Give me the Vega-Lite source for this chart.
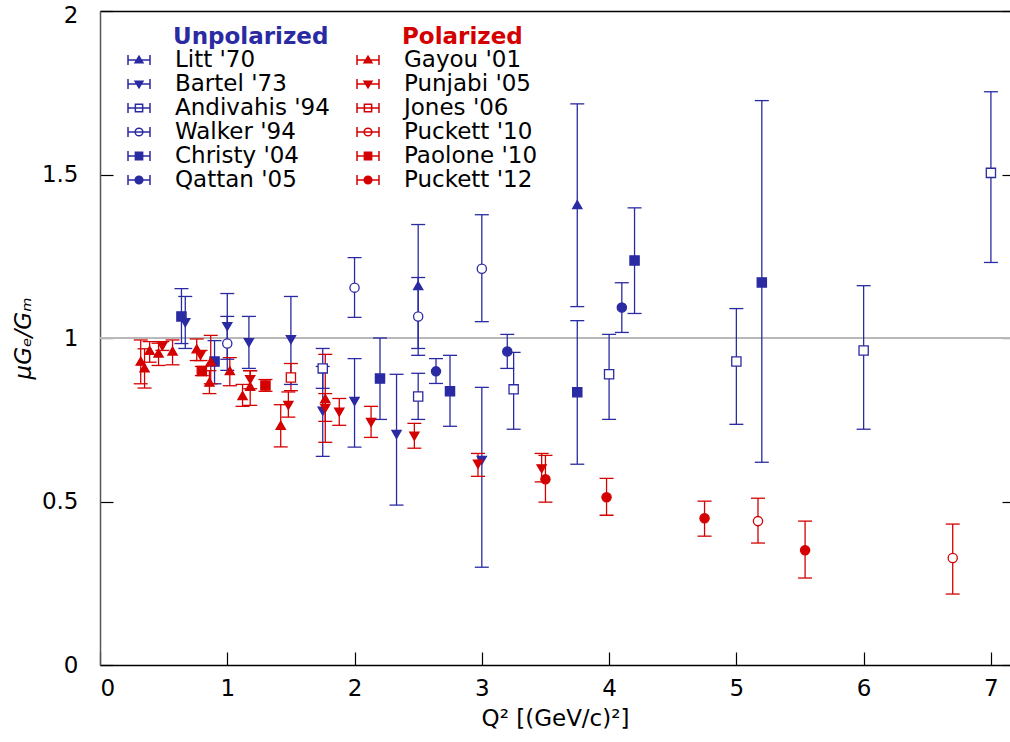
{
  "$schema": "https://vega.github.io/schema/vega-lite/v6.json",
  "width": 910,
  "height": 654,
  "autosize": "none",
  "padding": {"left": 100, "top": 11, "right": 0, "bottom": 77},
  "background": "white",
  "config": {
    "view": {"stroke": null},
    "font": "DejaVu Sans",
    "axis": {
      "domainColor": "black", "domainWidth": 1.5, "tickColor": "black", "tickWidth": 1.2,
      "tickSize": -13, "labelFontSize": 23, "labelColor": "black", "titleFontSize": 23,
      "titleColor": "black", "titleFontWeight": "normal", "grid": false,
      "labelFont": "DejaVu Sans", "titleFont": "DejaVu Sans"
    },
    "legend": {"labelFont": "DejaVu Sans", "titleFont": "DejaVu Sans"}
  },
  "data": {
    "values": [
      {"exp": "Litt '70", "group": "Unpolarized", "q2": 2.5, "ratio": 1.16, "lo": 0.947, "hi": 1.347},
      {"exp": "Litt '70", "group": "Unpolarized", "q2": 3.75, "ratio": 1.408, "lo": 1.096, "hi": 1.716},
      {"exp": "Bartel '73", "group": "Unpolarized", "q2": 0.67, "ratio": 1.047, "lo": 0.968, "hi": 1.127},
      {"exp": "Bartel '73", "group": "Unpolarized", "q2": 1.0, "ratio": 1.035, "lo": 0.935, "hi": 1.136},
      {"exp": "Bartel '73", "group": "Unpolarized", "q2": 1.17, "ratio": 0.986, "lo": 0.907, "hi": 1.066},
      {"exp": "Bartel '73", "group": "Unpolarized", "q2": 1.5, "ratio": 0.995, "lo": 0.858, "hi": 1.127},
      {"exp": "Bartel '73", "group": "Unpolarized", "q2": 1.75, "ratio": 0.776, "lo": 0.638, "hi": 0.913},
      {"exp": "Bartel '73", "group": "Unpolarized", "q2": 2.0, "ratio": 0.806, "lo": 0.666, "hi": 0.937},
      {"exp": "Bartel '73", "group": "Unpolarized", "q2": 2.33, "ratio": 0.705, "lo": 0.489, "hi": 0.889},
      {"exp": "Bartel '73", "group": "Unpolarized", "q2": 3.0, "ratio": 0.626, "lo": 0.299, "hi": 0.849},
      {"exp": "Andivahis '94", "group": "Unpolarized", "q2": 1.75, "ratio": 0.907, "lo": 0.846, "hi": 0.968},
      {"exp": "Andivahis '94", "group": "Unpolarized", "q2": 2.5, "ratio": 0.821, "lo": 0.751, "hi": 0.892},
      {"exp": "Andivahis '94", "group": "Unpolarized", "q2": 3.25, "ratio": 0.843, "lo": 0.721, "hi": 0.956},
      {"exp": "Andivahis '94", "group": "Unpolarized", "q2": 4.0, "ratio": 0.889, "lo": 0.751, "hi": 1.011},
      {"exp": "Andivahis '94", "group": "Unpolarized", "q2": 5.0, "ratio": 0.928, "lo": 0.736, "hi": 1.09},
      {"exp": "Andivahis '94", "group": "Unpolarized", "q2": 6.0, "ratio": 0.962, "lo": 0.721, "hi": 1.16},
      {"exp": "Andivahis '94", "group": "Unpolarized", "q2": 7.0, "ratio": 1.505, "lo": 1.231, "hi": 1.753},
      {"exp": "Walker '94", "group": "Unpolarized", "q2": 1.0, "ratio": 0.983, "lo": 0.901, "hi": 1.066},
      {"exp": "Walker '94", "group": "Unpolarized", "q2": 2.0, "ratio": 1.154, "lo": 1.063, "hi": 1.246},
      {"exp": "Walker '94", "group": "Unpolarized", "q2": 2.5, "ratio": 1.066, "lo": 0.968, "hi": 1.185},
      {"exp": "Walker '94", "group": "Unpolarized", "q2": 3.0, "ratio": 1.212, "lo": 1.05, "hi": 1.377},
      {"exp": "Christy '04", "group": "Unpolarized", "q2": 0.64, "ratio": 1.066, "lo": 0.983, "hi": 1.151},
      {"exp": "Christy '04", "group": "Unpolarized", "q2": 0.9, "ratio": 0.928, "lo": 0.86, "hi": 0.992},
      {"exp": "Christy '04", "group": "Unpolarized", "q2": 2.2, "ratio": 0.876, "lo": 0.751, "hi": 1.0},
      {"exp": "Christy '04", "group": "Unpolarized", "q2": 2.75, "ratio": 0.837, "lo": 0.73, "hi": 0.947},
      {"exp": "Christy '04", "group": "Unpolarized", "q2": 3.75, "ratio": 0.834, "lo": 0.614, "hi": 1.053},
      {"exp": "Christy '04", "group": "Unpolarized", "q2": 4.2, "ratio": 1.237, "lo": 1.075, "hi": 1.398},
      {"exp": "Christy '04", "group": "Unpolarized", "q2": 5.2, "ratio": 1.17, "lo": 0.62, "hi": 1.726},
      {"exp": "Qattan '05", "group": "Unpolarized", "q2": 2.64, "ratio": 0.898, "lo": 0.861, "hi": 0.937},
      {"exp": "Qattan '05", "group": "Unpolarized", "q2": 3.2, "ratio": 0.959, "lo": 0.907, "hi": 1.011},
      {"exp": "Qattan '05", "group": "Unpolarized", "q2": 4.1, "ratio": 1.093, "lo": 1.017, "hi": 1.169},
      {"exp": "Gayou '01", "group": "Polarized", "q2": 0.32, "ratio": 0.929, "lo": 0.86, "hi": 0.994},
      {"exp": "Gayou '01", "group": "Polarized", "q2": 0.35, "ratio": 0.909, "lo": 0.847, "hi": 0.967},
      {"exp": "Gayou '01", "group": "Polarized", "q2": 0.39, "ratio": 0.962, "lo": 0.926, "hi": 0.989},
      {"exp": "Gayou '01", "group": "Polarized", "q2": 0.46, "ratio": 0.954, "lo": 0.916, "hi": 0.984},
      {"exp": "Gayou '01", "group": "Polarized", "q2": 0.57, "ratio": 0.96, "lo": 0.918, "hi": 0.994},
      {"exp": "Gayou '01", "group": "Polarized", "q2": 0.76, "ratio": 0.967, "lo": 0.931, "hi": 0.997},
      {"exp": "Gayou '01", "group": "Polarized", "q2": 0.87, "ratio": 0.928, "lo": 0.86, "hi": 1.008},
      {"exp": "Gayou '01", "group": "Polarized", "q2": 0.86, "ratio": 0.865, "lo": 0.83, "hi": 0.9},
      {"exp": "Gayou '01", "group": "Polarized", "q2": 1.02, "ratio": 0.9, "lo": 0.854, "hi": 0.94},
      {"exp": "Gayou '01", "group": "Polarized", "q2": 1.12, "ratio": 0.824, "lo": 0.791, "hi": 0.858},
      {"exp": "Gayou '01", "group": "Polarized", "q2": 1.18, "ratio": 0.852, "lo": 0.794, "hi": 0.9},
      {"exp": "Gayou '01", "group": "Polarized", "q2": 1.42, "ratio": 0.733, "lo": 0.667, "hi": 0.796},
      {"exp": "Gayou '01", "group": "Polarized", "q2": 1.77, "ratio": 0.815, "lo": 0.681, "hi": 0.95},
      {"exp": "Punjabi '05", "group": "Polarized", "q2": 0.49, "ratio": 0.975, "lo": 0.962, "hi": 0.989},
      {"exp": "Punjabi '05", "group": "Polarized", "q2": 0.79, "ratio": 0.947, "lo": 0.931, "hi": 0.962},
      {"exp": "Punjabi '05", "group": "Polarized", "q2": 1.18, "ratio": 0.873, "lo": 0.845, "hi": 0.9},
      {"exp": "Punjabi '05", "group": "Polarized", "q2": 1.48, "ratio": 0.794, "lo": 0.758, "hi": 0.835},
      {"exp": "Punjabi '05", "group": "Polarized", "q2": 1.77, "ratio": 0.785, "lo": 0.745, "hi": 0.83},
      {"exp": "Punjabi '05", "group": "Polarized", "q2": 1.88, "ratio": 0.773, "lo": 0.733, "hi": 0.815},
      {"exp": "Punjabi '05", "group": "Polarized", "q2": 2.13, "ratio": 0.742, "lo": 0.696, "hi": 0.791},
      {"exp": "Punjabi '05", "group": "Polarized", "q2": 2.47, "ratio": 0.7, "lo": 0.663, "hi": 0.739},
      {"exp": "Punjabi '05", "group": "Polarized", "q2": 2.97, "ratio": 0.614, "lo": 0.577, "hi": 0.647},
      {"exp": "Punjabi '05", "group": "Polarized", "q2": 3.47, "ratio": 0.6, "lo": 0.56, "hi": 0.647},
      {"exp": "Jones '06", "group": "Polarized", "q2": 1.5, "ratio": 0.879, "lo": 0.839, "hi": 0.922},
      {"exp": "Puckett '10", "group": "Polarized", "q2": 5.17, "ratio": 0.44, "lo": 0.373, "hi": 0.51},
      {"exp": "Puckett '10", "group": "Polarized", "q2": 6.7, "ratio": 0.327, "lo": 0.217, "hi": 0.431},
      {"exp": "Paolone '10", "group": "Polarized", "q2": 0.8, "ratio": 0.899, "lo": 0.885, "hi": 0.913},
      {"exp": "Paolone '10", "group": "Polarized", "q2": 1.3, "ratio": 0.855, "lo": 0.837, "hi": 0.873},
      {"exp": "Puckett '12", "group": "Polarized", "q2": 3.5, "ratio": 0.568, "lo": 0.498, "hi": 0.641},
      {"exp": "Puckett '12", "group": "Polarized", "q2": 3.98, "ratio": 0.513, "lo": 0.458, "hi": 0.571},
      {"exp": "Puckett '12", "group": "Polarized", "q2": 4.75, "ratio": 0.449, "lo": 0.394, "hi": 0.501},
      {"exp": "Puckett '12", "group": "Polarized", "q2": 5.54, "ratio": 0.351, "lo": 0.266, "hi": 0.44}
    ]
  },
  "layer": [
    {
      "mark": {"type": "rule", "color": "#b8b8b8", "strokeWidth": 1.3},
      "encoding": {
        "y": {"datum": 1, "type": "quantitative", "scale": {"domain": [0, 2], "nice": false},
          "axis": {"orient": "left", "values": [0, 0.5, 1, 1.5, 2], "format": "~g", "title": "μGₑ/Gₘ",
            "titleFontStyle": "italic", "labelPadding": 35, "titlePadding": 6, "domainColor": "#555555",
            "labelOffset": {"condition": {"test": "datum.value == 2", "value": 4}, "value": 0}}}
      }
    },
    {
      "mark": {"type": "rule", "strokeWidth": 1.3},
      "encoding": {
        "x": {"field": "q2", "type": "quantitative", "scale": {"domain": [0, 7.15], "nice": false},
          "axis": {"orient": "bottom", "values": [0, 1, 2, 3, 4, 5, 6, 7], "format": "d", "title": "Q² [(GeV/c)²]",
            "labelPadding": 25, "titlePadding": 7}},
        "y": {"field": "lo", "type": "quantitative", "scale": {"domain": [0, 2], "nice": false}, "axis": null},
        "y2": {"field": "hi"},
        "color": {"field": "group", "type": "nominal", "scale": {"domain": ["Unpolarized", "Polarized"], "range": ["#2a2aa3", "#d40000"]}, "legend": null}
      }
    },
    {
      "mark": {"type": "tick", "orient": "horizontal", "size": 14, "thickness": 1.3, "opacity": 1},
      "encoding": {
        "x": {"field": "q2", "type": "quantitative", "scale": {"domain": [0, 7.15], "nice": false}, "axis": null},
        "y": {"field": "lo", "type": "quantitative", "scale": {"domain": [0, 2], "nice": false}, "axis": null},
        "color": {"field": "group", "type": "nominal", "scale": {"domain": ["Unpolarized", "Polarized"], "range": ["#2a2aa3", "#d40000"]}, "legend": null}
      }
    },
    {
      "mark": {"type": "tick", "orient": "horizontal", "size": 14, "thickness": 1.3, "opacity": 1},
      "encoding": {
        "x": {"field": "q2", "type": "quantitative", "scale": {"domain": [0, 7.15], "nice": false}, "axis": null},
        "y": {"field": "hi", "type": "quantitative", "scale": {"domain": [0, 2], "nice": false}, "axis": null},
        "color": {"field": "group", "type": "nominal", "scale": {"domain": ["Unpolarized", "Polarized"], "range": ["#2a2aa3", "#d40000"]}, "legend": null}
      }
    },
    {
      "transform": [{"filter": "datum.group == 'Unpolarized'"}],
      "mark": {"type": "point", "filled": false, "opacity": 1, "strokeWidth": 1.3, "size": 85, "stroke": "#2a2aa3"},
      "encoding": {
        "x": {"field": "q2", "type": "quantitative", "scale": {"domain": [0, 7.15], "nice": false}, "axis": null},
        "y": {"field": "ratio", "type": "quantitative", "scale": {"domain": [0, 2], "nice": false}, "axis": null},
        "shape": {"field": "exp", "type": "nominal",
          "scale": {"domain": ["Litt '70", "Bartel '73", "Andivahis '94", "Walker '94", "Christy '04", "Qattan '05"],
            "range": ["triangle-up", "triangle-down", "square", "circle", "square", "circle"]},
          "legend": null},
        "fill": {"field": "exp", "type": "nominal",
          "scale": {"domain": ["Litt '70", "Bartel '73", "Andivahis '94", "Walker '94", "Christy '04", "Qattan '05"],
            "range": ["#2a2aa3", "#2a2aa3", "white", "white", "#2a2aa3", "#2a2aa3"]}, "legend": null}
      }
    },
    {
      "transform": [{"filter": "datum.group == 'Polarized'"}],
      "mark": {"type": "point", "filled": false, "opacity": 1, "strokeWidth": 1.3, "size": 85, "stroke": "#d40000"},
      "encoding": {
        "x": {"field": "q2", "type": "quantitative", "scale": {"domain": [0, 7.15], "nice": false}, "axis": null},
        "y": {"field": "ratio", "type": "quantitative", "scale": {"domain": [0, 2], "nice": false}, "axis": null},
        "shape": {"field": "exp", "type": "nominal",
          "scale": {"domain": ["Gayou '01", "Punjabi '05", "Jones '06", "Puckett '10", "Paolone '10", "Puckett '12"],
            "range": ["triangle-up", "triangle-down", "square", "circle", "square", "circle"]},
          "legend": null},
        "fill": {"field": "exp", "type": "nominal",
          "scale": {"domain": ["Gayou '01", "Punjabi '05", "Jones '06", "Puckett '10", "Paolone '10", "Puckett '12"],
            "range": ["#d40000", "#d40000", "white", "white", "#d40000", "#d40000"]}, "legend": null}
      }
    },
    {
      "transform": [{"filter": "false"}],
      "mark": {"type": "point", "filled": false, "opacity": 1, "strokeWidth": 1.4, "size": 484, "stroke": "#2a2aa3"},
      "encoding": {
        "x": {"field": "q2", "type": "quantitative", "scale": {"domain": [0, 7.15], "nice": false}, "axis": null},
        "y": {"field": "ratio", "type": "quantitative", "scale": {"domain": [0, 2], "nice": false}, "axis": null},
        "shape": {"field": "exp", "type": "nominal",
          "scale": {"domain": ["Litt '70", "Bartel '73", "Andivahis '94", "Walker '94", "Christy '04", "Qattan '05"],
            "range": ["M-1,0H1M-1,-0.45V0.45M1,-0.45V0.45M0,-0.34L0.36,0.26L-0.36,0.26Z", "M-1,0H1M-1,-0.45V0.45M1,-0.45V0.45M0,0.34L0.36,-0.26L-0.36,-0.26Z", "M-1,0H1M-1,-0.45V0.45M1,-0.45V0.45M-0.33,-0.33H0.33V0.33H-0.33Z", "M-1,0H1M-1,-0.45V0.45M1,-0.45V0.45M0.35,0A0.35,0.35,0,1,1,-0.35,0A0.35,0.35,0,1,1,0.35,0Z", "M-1,0H1M-1,-0.45V0.45M1,-0.45V0.45M-0.33,-0.33H0.33V0.33H-0.33Z", "M-1,0H1M-1,-0.45V0.45M1,-0.45V0.45M0.35,0A0.35,0.35,0,1,1,-0.35,0A0.35,0.35,0,1,1,0.35,0Z"]},
          "legend": {
            "orient": "none", "legendX": 73, "legendY": 15, "title": "Unpolarized",
            "titleColor": "#2a2aa3", "titleFontWeight": "bold", "titleFontSize": 23, "titlePadding": -1,
            "labelFontSize": 23, "labelColor": "black", "labelLimit": 300, "labelOffset": 24,
            "symbolSize": 484, "symbolOffset": -46, "rowPadding": -4.4, "padding": 0,
            "encode": {
              "symbols": {"update": {
                "size": {"value": 484},
                "fill": {"signal": "datum.index == 2 || datum.index == 3 ? 'transparent' : '#2a2aa3'"},
                "stroke": {"value": "#2a2aa3"},
                "strokeWidth": {"value": 1.4},
                "opacity": {"value": 1}
              }}
            }
          }},
        "fill": {"field": "exp", "type": "nominal",
          "scale": {"domain": ["Litt '70", "Bartel '73", "Andivahis '94", "Walker '94", "Christy '04", "Qattan '05"],
            "range": ["#2a2aa3", "#2a2aa3", "transparent", "transparent", "#2a2aa3", "#2a2aa3"]}, "legend": null}
      }
    },
    {
      "transform": [{"filter": "false"}],
      "mark": {"type": "point", "filled": false, "opacity": 1, "strokeWidth": 1.4, "size": 484, "stroke": "#d40000"},
      "encoding": {
        "x": {"field": "q2", "type": "quantitative", "scale": {"domain": [0, 7.15], "nice": false}, "axis": null},
        "y": {"field": "ratio", "type": "quantitative", "scale": {"domain": [0, 2], "nice": false}, "axis": null},
        "shape": {"field": "exp", "type": "nominal",
          "scale": {"domain": ["Gayou '01", "Punjabi '05", "Jones '06", "Puckett '10", "Paolone '10", "Puckett '12"],
            "range": ["M-1,0H1M-1,-0.45V0.45M1,-0.45V0.45M0,-0.34L0.36,0.26L-0.36,0.26Z", "M-1,0H1M-1,-0.45V0.45M1,-0.45V0.45M0,0.34L0.36,-0.26L-0.36,-0.26Z", "M-1,0H1M-1,-0.45V0.45M1,-0.45V0.45M-0.33,-0.33H0.33V0.33H-0.33Z", "M-1,0H1M-1,-0.45V0.45M1,-0.45V0.45M0.35,0A0.35,0.35,0,1,1,-0.35,0A0.35,0.35,0,1,1,0.35,0Z", "M-1,0H1M-1,-0.45V0.45M1,-0.45V0.45M-0.33,-0.33H0.33V0.33H-0.33Z", "M-1,0H1M-1,-0.45V0.45M1,-0.45V0.45M0.35,0A0.35,0.35,0,1,1,-0.35,0A0.35,0.35,0,1,1,0.35,0Z"]},
          "legend": {
            "orient": "none", "legendX": 302, "legendY": 15, "title": "Polarized",
            "titleColor": "#d40000", "titleFontWeight": "bold", "titleFontSize": 23, "titlePadding": -1,
            "labelFontSize": 23, "labelColor": "black", "labelLimit": 300, "labelOffset": 24,
            "symbolSize": 484, "symbolOffset": -46, "rowPadding": -4.4, "padding": 0,
            "encode": {
              "symbols": {"update": {
                "size": {"value": 484},
                "fill": {"signal": "datum.index == 2 || datum.index == 3 ? 'transparent' : '#d40000'"},
                "stroke": {"value": "#d40000"},
                "strokeWidth": {"value": 1.4},
                "opacity": {"value": 1}
              }}
            }
          }},
        "fill": {"field": "exp", "type": "nominal",
          "scale": {"domain": ["Gayou '01", "Punjabi '05", "Jones '06", "Puckett '10", "Paolone '10", "Puckett '12"],
            "range": ["#d40000", "#d40000", "transparent", "transparent", "#d40000", "#d40000"]}, "legend": null}
      }
    },
    {
      "mark": {"type": "point", "opacity": 0},
      "encoding": {
        "x": {"datum": 0, "type": "quantitative", "scale": {"domain": [0, 7.15], "nice": false},
          "axis": {"orient": "top", "ticks": false, "labels": false, "title": null, "domain": true}},
        "y": {"datum": 0, "type": "quantitative", "scale": {"domain": [0, 2], "nice": false},
          "axis": {"orient": "right", "values": [0, 0.5, 1, 1.5, 2], "ticks": true, "tickSize": -8, "labels": false, "title": null, "domain": false}}
      }
    }
  ],
  "resolve": {
    "scale": {"shape": "independent", "fill": "independent"},
    "legend": {"shape": "independent", "fill": "independent"},
    "axis": {"x": "independent", "y": "independent"}
  }
}
